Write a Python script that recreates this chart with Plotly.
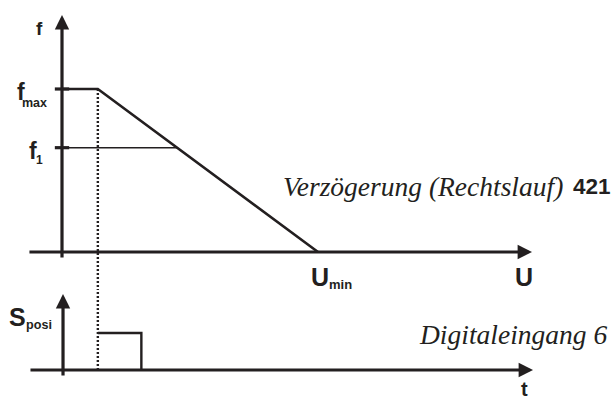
import numpy as np
import plotly.graph_objects as go

# ramp: frequency falls from f_max to 0 between U_start and U_min (U scaled to U_min = 1)
U_curve = [0.0, 0.14, 1.0]
f_curve = [1.0, 1.0, 0.0]
f_max = 1.0
f1 = 0.64
U_start = 0.14
U_min = 1.0

# digital input 6 pulse over time
t_pulse = [0.14, 0.14, 0.31, 0.31]
S_pulse = [0, 1, 1, 0]

INK = "#231f20"
W, H = 614, 396
SANS = "Liberation Sans"
SERIF = "Liberation Serif"


def paper(px, py):
    return px / W, 1 - py / H


fig = go.Figure()

# f(U) curve
fig.add_trace(go.Scatter(x=U_curve, y=f_curve, mode="lines",
                         line=dict(color=INK, width=2.6), xaxis="x", yaxis="y"))
# f1 level up to where it meets the ramp
U_at_f1 = float(np.interp(f1, f_curve[::-1], U_curve[::-1]))
fig.add_trace(go.Scatter(x=[0, U_at_f1], y=[f1, f1], mode="lines",
                         line=dict(color=INK, width=1.6), xaxis="x", yaxis="y"))
# ticks on f axis
for lvl in (f_max, f1):
    fig.add_trace(go.Scatter(x=[-0.028, 0.028], y=[lvl, lvl], mode="lines",
                             line=dict(color=INK, width=3.2), xaxis="x", yaxis="y"))
# dotted guide from end of f_max down to the pulse
fig.add_trace(go.Scatter(x=[U_start, U_start], y=[f_max, -5], mode="lines",
                         line=dict(color=INK, width=2.4, dash="2px,2px"), xaxis="x", yaxis="y"))
fig.add_trace(go.Scatter(x=[t_pulse[0], t_pulse[0]], y=[S_pulse[0], 10], mode="lines",
                         line=dict(color=INK, width=2.4, dash="2px,2px"), xaxis="x", yaxis="y2"))
# pulse
fig.add_trace(go.Scatter(x=t_pulse[1:], y=S_pulse[1:], mode="lines",
                         line=dict(color=INK, width=2.4), xaxis="x", yaxis="y2"))


def axis_arrow(x0, y0, x1, y1, yref):
    return dict(x=x1, y=y1, ax=x0, ay=y0, xref="x", yref=yref, axref="x", ayref=yref,
                text="", showarrow=True, arrowhead=2, arrowsize=0.9, arrowwidth=3.2,
                arrowcolor=INK, standoff=0, startstandoff=0)


annotations = [
    axis_arrow(-0.133, 0, 1.836, 0, "y"),      # U axis
    axis_arrow(0, -0.043, 0, 1.454, "y"),      # f axis
    axis_arrow(-0.129, 0, 1.840, 0, "y2"),     # t axis
    axis_arrow(0.004, -0.19, 0.004, 2.054, "y2"),  # S axis
]


def label(text, px, py, size, bold=True, family=SANS, italic=False, xanchor="center"):
    x, y = paper(px, py)
    return dict(x=x, y=y, xref="paper", yref="paper", text=text, showarrow=False,
                xanchor=xanchor, yanchor="middle",
                font=dict(family=family, size=size, color=INK,
                          weight="bold" if bold else "normal",
                          style="italic" if italic else "normal"))


annotations += [
    label("f", 39, 29, 19),
    label("f", 21, 92, 23),
    label("max", 34.5, 103, 12.5),
    label("f", 32.5, 151, 23),
    label("1", 39.5, 160, 12),
    label("U", 319.5, 277, 25),
    label("min", 340.5, 284, 13),
    label("U", 523.5, 277, 25),
    label("S", 17.5, 317, 25),
    label("posi", 39, 325, 12.6),
    label("t", 524, 389, 20),
    label("Verzögerung (Rechtslauf)", 281, 186, 27.5, bold=False, family=SERIF,
          italic=True, xanchor="left"),
    label("421", 571, 186, 22.5, xanchor="left"),
    label("Digitaleingang 6", 417, 334, 27.5, bold=False, family=SERIF,
          italic=True, xanchor="left"),
]

split = 1 - 290 / H
hidden = dict(visible=False, showgrid=False, zeroline=False, fixedrange=True)
fig.update_layout(
    width=W, height=H,
    margin=dict(l=0, r=0, t=0, b=0),
    paper_bgcolor="white", plot_bgcolor="white",
    showlegend=False,
    xaxis=dict(range=[-62 / 256, (W - 62) / 256], domain=[0, 1], **hidden),
    yaxis=dict(range=[-38 / 163, 252 / 163], domain=[split, 1], anchor="x", **hidden),
    yaxis2=dict(range=[(370 - H) / 37, 80 / 37], domain=[0, split], anchor="x", **hidden),
    annotations=annotations,
)

# drop the default page margin so the figure sits at the window corner
fig.write_html("out.html", config={"displayModeBar": False},
               post_script="document.body.style.margin='0';document.body.style.overflow='hidden';")
